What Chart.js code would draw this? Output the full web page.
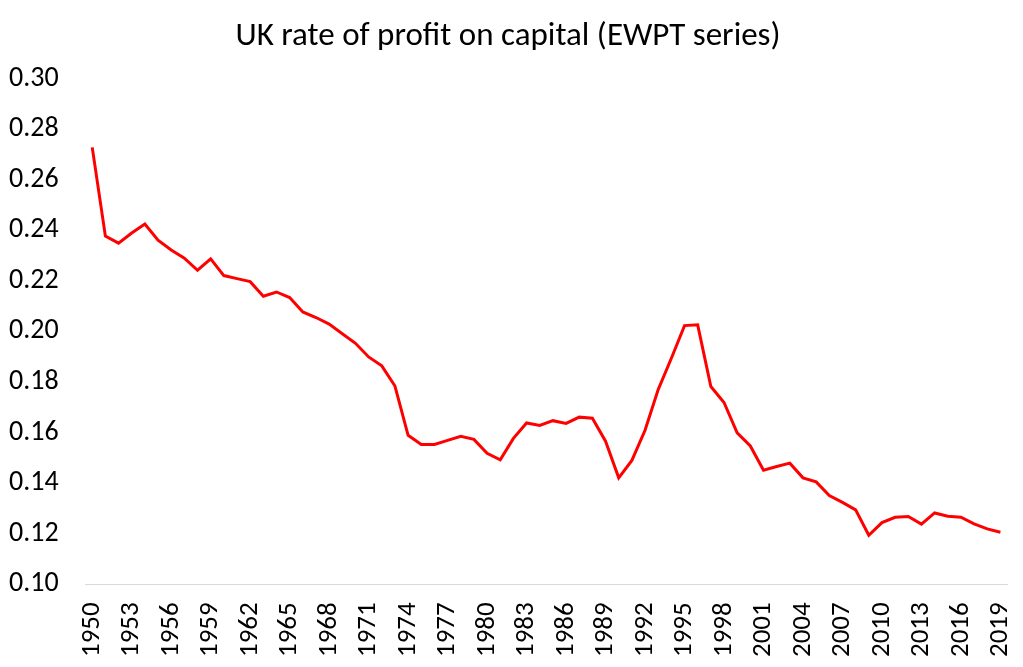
<!DOCTYPE html>
<html>
<head>
<meta charset="utf-8">
<script src="https://cdn.jsdelivr.net/npm/chart.js@4/dist/chart.umd.min.js"></script>
<style>
  html, body { margin: 0; padding: 0; background: #fff; }
  #wrap { width: 1023px; height: 667px; }
</style>
</head>
<body>
<div id="wrap"><canvas id="chart" width="1023" height="667"></canvas></div>
<script>
// years 1950..2019
const years = [
  '1950','1951','1952','1953','1954','1955','1956','1957','1958','1959',
  '1960','1961','1962','1963','1964','1965','1966','1967','1968','1969',
  '1970','1971','1972','1973','1974','1975','1976','1977','1978','1979',
  '1980','1981','1982','1983','1984','1985','1986','1987','1988','1989',
  '1990','1991','1992','1993','1994','1995','1996','1997','1998','1999',
  '2000','2001','2002','2003','2004','2005','2006','2007','2008','2009',
  '2010','2011','2012','2013','2014','2015','2016','2017','2018','2019'
]
// rate of profit
const profitRate = [
  0.2728, 0.2377, 0.2349, 0.2389, 0.2425, 0.2361, 0.2322, 0.2290, 0.2242, 0.2287,
  0.2221, 0.2209, 0.2197, 0.2139, 0.2156, 0.2134, 0.2077, 0.2055, 0.2029, 0.1991,
  0.1953, 0.1899, 0.1864, 0.1784, 0.1589, 0.1553, 0.1553, 0.1569, 0.1585, 0.1573,
  0.1518, 0.1492, 0.1577, 0.1638, 0.1628, 0.1647, 0.1636, 0.1661, 0.1657, 0.1566,
  0.1421, 0.1490, 0.1609, 0.1770, 0.1894, 0.2023, 0.2026, 0.1782, 0.1719, 0.1599,
  0.1547, 0.1451, 0.1466, 0.1479, 0.1421, 0.1405, 0.1351, 0.1324, 0.1294, 0.1194,
  0.1244, 0.1265, 0.1268, 0.1238, 0.1282, 0.1269, 0.1265, 0.1239, 0.1219, 0.1206
]
const yMin = 0.10
const yMax = 0.30
const yStep = 0.02
const labelEvery = 3

const fontFamily = 'Calibri, Carlito, Lato, sans-serif'

new Chart(document.getElementById('chart'), {
  type: 'line',
  data: {
    labels: years,
    datasets: [{
      label: 'UK rate of profit',
      data: profitRate,
      borderColor: '#ff0000',
      backgroundColor: '#ff0000',
      borderWidth: 3,
      pointRadius: 0,
      tension: 0,
      fill: false
    }]
  },
  options: {
    responsive: false,
    animation: false,
    layout: { padding: { left: 9, right: 16, top: 17, bottom: -8 } },
    plugins: {
      legend: { display: false },
      tooltip: { enabled: false },
      title: {
        display: true,
        text: 'UK rate of profit on capital (EWPT series)',
        color: '#000',
        font: { family: fontFamily, size: 33, weight: 'normal' },
        padding: { top: 0, bottom: 22 }
      }
    },
    scales: {
      x: {
        offset: true,
        grid: { display: false, drawTicks: false },
        border: { display: true, color: '#d9d9d9', width: 1 },
        ticks: {
          autoSkip: false,
          maxRotation: 90,
          minRotation: 90,
          padding: 18,
          color: '#000',
          font: { family: fontFamily, size: 27 },
          callback: function (value, index) {
            return index % labelEvery === 0 ? this.getLabelForValue(value) : ''
          }
        },
        // rotated labels otherwise push the plot in from both sides
        afterFit: scale => {
          scale.paddingLeft = 0
          scale.paddingRight = 0
        }
      },
      y: {
        min: yMin,
        max: yMax,
        grid: { display: false, drawTicks: false },
        border: { display: false },
        ticks: {
          stepSize: yStep,
          padding: 13.5,
          crossAlign: 'far',
          color: '#000',
          font: { family: fontFamily, size: 28 },
          callback: v => v.toFixed(2)
        }
      }
    }
  }
})
</script>
</body>
</html>
